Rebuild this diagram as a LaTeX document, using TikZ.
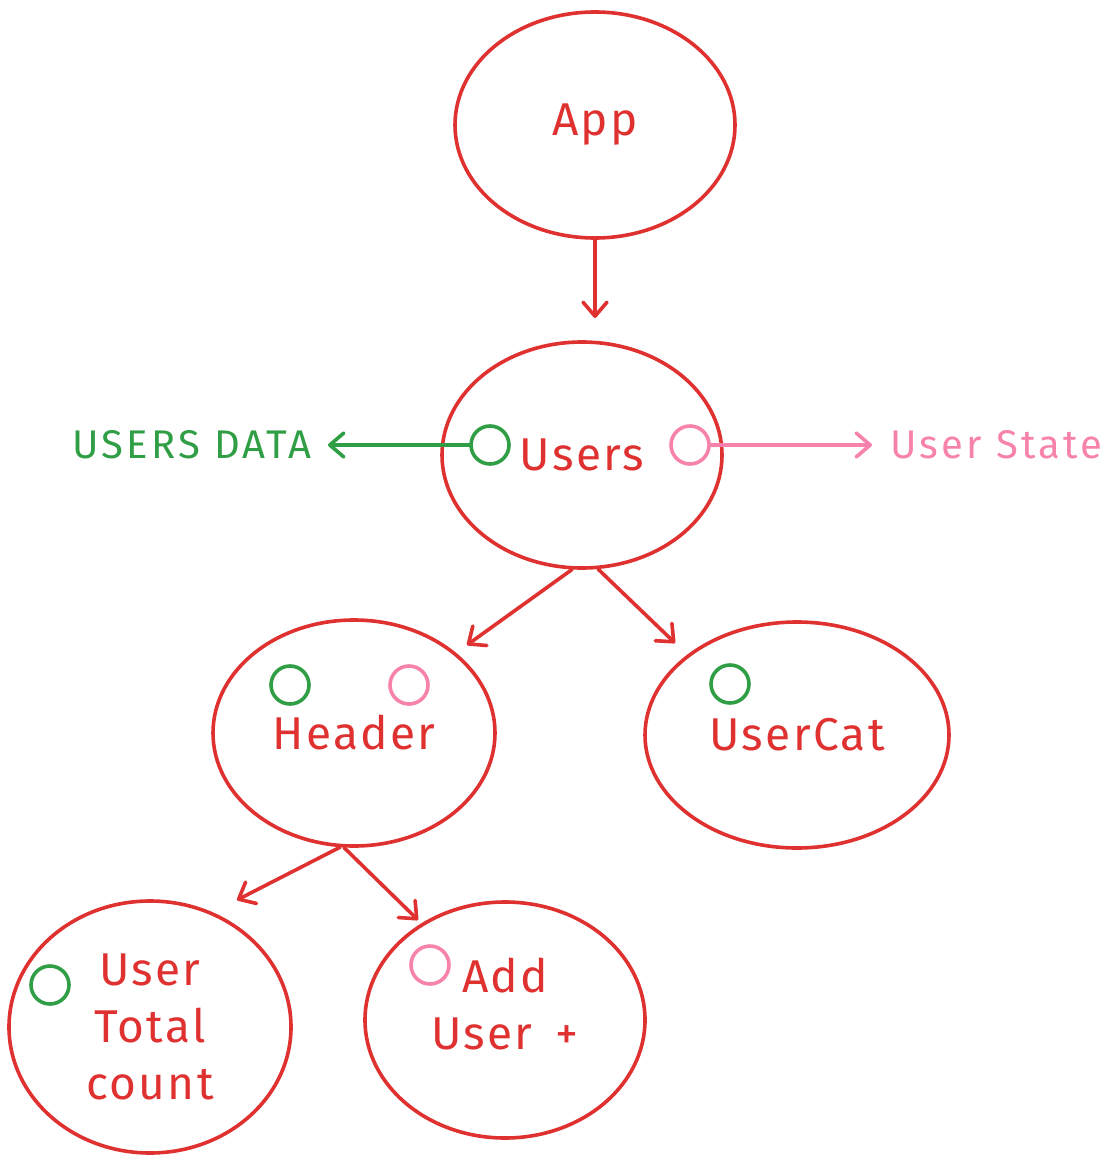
\documentclass[tikz,border=0pt]{standalone}
\usepackage{fontspec}
\setmainfont{Fira Sans}
\usepackage{xcolor}
\usepackage{tikz}
\usetikzlibrary{shapes.geometric,arrows.meta}
\usetikzlibrary{positioning}

\definecolor{compred}{HTML}{E03131}
\definecolor{datagreen}{HTML}{2F9E44}
\definecolor{statepink}{HTML}{F783AC}

\tikzset{
  comp/.style={ellipse, draw=compred, line width=1.8pt, text=compred, align=center,
    inner sep=0pt, font=\fontsize{23}{28.5}\selectfont\addfontfeature{LetterSpace=5}},
  port/.style={circle, draw=#1, line width=1.8pt, minimum size=19pt, inner sep=0pt},
  flow/.style={draw=#1, line width=1.8pt, line cap=round,
    -{Straight Barb[length=7pt,width=12pt,round]}},
  tag/.style={text=#1, font=\fontsize{20}{24}\selectfont\addfontfeature{LetterSpace=8}, inner sep=0pt}
}

\begin{document}
\begin{tikzpicture}[x=0.5pt,y=0.5pt,yscale=-1]
  \useasboundingbox (0,0) rectangle (1104,1166);
  \fill[white] (0,0) rectangle (1104,1166);

  % components
  \node[comp, minimum width=140pt, minimum height=113pt] (app) at (595,125) {App};
  \node[comp, minimum width=140pt, minimum height=113pt] (users) at (582,455) {Users};
  \node[comp, minimum width=141pt, minimum height=113pt] (header) at (354,733) {Header};
  \node[comp, minimum width=152pt, minimum height=113pt] (usercat) at (797,735) {UserCat};
  \node[comp, minimum width=141pt, minimum height=126pt] (usertotal) at (150,1027) {User\\Total\\count};
  \node[comp, minimum width=140pt, minimum height=118pt] (adduser) at (505,1020) {Add\\User\enspace+\\[-12pt]};

  % ports
  \node[port=datagreen] (usersdata) at (490,445) {};
  \node[port=statepink] (usersstate) at (690,445) {};
  \node[port=datagreen] (headerdata) at (290,685) {};
  \node[port=statepink] (headerstate) at (409,685) {};
  \node[port=datagreen] (catdata) at (730,684) {};
  \node[port=datagreen] (totaldata) at (50,985) {};
  \node[port=statepink] (addstate) at (430,965) {};

  % outputs of Users
  \node[tag=datagreen, anchor=east] (datalabel) at (312,445) {USERS DATA};
  \node[tag=statepink, anchor=west] (statelabel) at (890,445) {User State};
  \coordinate (datahead) at (328,445);
  \coordinate (statehead) at (872,445);
  \draw[flow=datagreen] (usersdata) -- (datahead);
  \draw[flow=statepink] (usersstate) -- (statehead);

  % tree arrows
  \coordinate (usershead) at (595,318);
  \coordinate (headerhead) at (467,645);
  \coordinate (cathead) at (675,643);
  \coordinate (totalhead) at (237,900);
  \coordinate (addhead) at (418,920);
  \draw[flow=compred] (app.south) -- (usershead);
  \draw[flow=compred] (users.-95) -- (headerhead);
  \draw[flow=compred] (users.-82) -- (cathead);
  \draw[flow=compred] (header.-97) -- (totalhead);
  \draw[flow=compred] (header.-95) -- (addhead);
\end{tikzpicture}
\end{document}
